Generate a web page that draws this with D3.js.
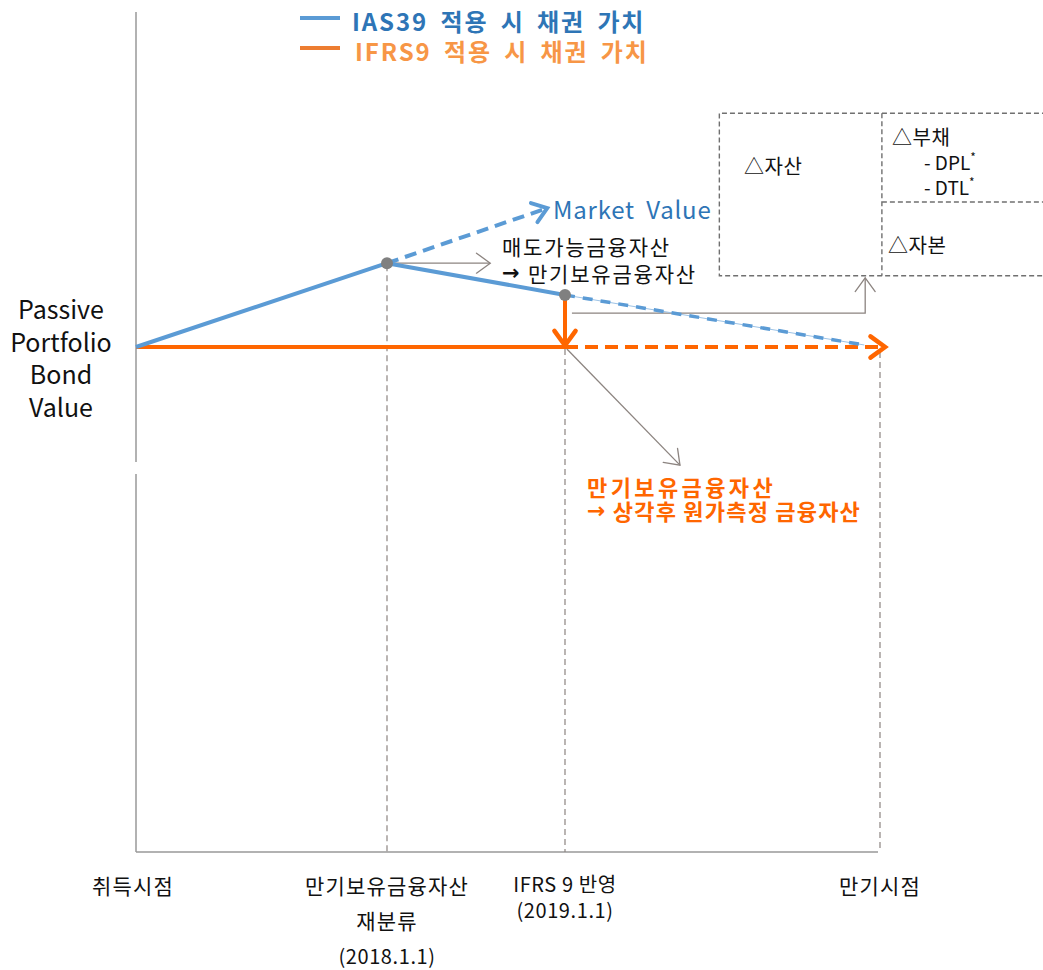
<!DOCTYPE html>
<html>
<head>
<meta charset="utf-8">
<script src="https://cdn.jsdelivr.net/npm/d3@7"></script>
<style>
    body { margin: 0; background: #fff; }
    text { font-family: "Noto Sans CJK KR", "Noto Sans", sans-serif; }
</style>
</head>
<body>
<div id="chart"></div>
<script>
'use strict';

// Time points (abstract index) and labels
const timePoints = [0, 1, 2, 3];
const timeLabels = [
    ['취득시점'],
    ['만기보유금융자산', '재분류', '(2018.1.1)'],
    ['IFRS 9 반영', '(2019.1.1)'],
    ['만기시점']
];

// Bond value paths (t = time index, v = relative value)
const ias39Held = [{t: 0, v: 100}, {t: 1, v: 116.6}, {t: 2, v: 110.3}];
const ias39Market = [{t: 1, v: 116.6}, {t: 1.9, v: 127.5}];
const ias39Amortised = [{t: 2, v: 110.3}, {t: 2.95, v: 100.4}];
const ifrs9Held = [{t: 0, v: 100}, {t: 2, v: 100}];
const ifrs9Future = [{t: 2, v: 100}, {t: 3.016, v: 100}];
const reclassPoints = [{t: 1, v: 116.6}, {t: 2, v: 110.3}];

// Legend
const legendLabels = ['IAS39 적용 시 채권 가치', 'IFRS9 적용 시 채권 가치'];

// Colors
const blue = '#5b9bd5';
const blueText = '#2e75b6';
const orange = '#ff6600';
const orangeLegend = '#ed7d31';
const orangeLegendText = '#f79646';
const gray = '#808080';

// Config
const svgW = 1043;
const svgH = 970;

const x = d3.scaleLinear().domain(timePoints).range([136, 387, 565, 880]);
const y = d3.scaleLinear().domain([0, 100]).range([852, 347]);
const line = d3.line().x(d => x(d.t)).y(d => y(d.v));

const svg = d3.select('#chart').append('svg')
    .attr('width', svgW)
    .attr('height', svgH);

/* chevron arrowhead at (x2,y2) pointing from (x1,y1) */
function chevron(g, x1, y1, x2, y2, size, color, width) {
    const a = Math.atan2(y2 - y1, x2 - x1);
    const spread = Math.PI / 5;
    const p1 = [x2 - size * Math.cos(a - spread), y2 - size * Math.sin(a - spread)];
    const p2 = [x2 - size * Math.cos(a + spread), y2 - size * Math.sin(a + spread)];
    g.append('path')
        .attr('d', `M${p1[0]},${p1[1]}L${x2},${y2}L${p2[0]},${p2[1]}`)
        .attr('fill', 'none')
        .attr('stroke', color)
        .attr('stroke-width', width)
        .attr('stroke-linecap', 'round')
        .attr('stroke-linejoin', 'miter');
}

// Axes
const axisG = svg.append('g').attr('class', 'axis');
axisG.append('line')
    .attr('x1', x(0)).attr('x2', x(0)).attr('y1', 12).attr('y2', 462)
    .attr('stroke', '#999').attr('stroke-width', 1.5);
axisG.append('line')
    .attr('x1', x(0)).attr('x2', x(0)).attr('y1', 474).attr('y2', y(0))
    .attr('stroke', '#999').attr('stroke-width', 1.5);
axisG.append('line')
    .attr('x1', x(0)).attr('x2', x(3) - 2).attr('y1', y(0)).attr('y2', y(0))
    .attr('stroke', '#999').attr('stroke-width', 1.5);

// Drop lines
const dropG = svg.append('g').attr('class', 'drops');
[{t: 1, v: 116.6}, {t: 2, v: 100}, {t: 3, v: 99.4}].forEach(d => {
    dropG.append('line')
        .attr('x1', x(d.t)).attr('x2', x(d.t))
        .attr('y1', y(d.v) + 2).attr('y2', y(0))
        .attr('stroke', '#8c8480').attr('stroke-width', 1.2)
        .attr('stroke-dasharray', '6,4');
});

// Axis labels
const labelG = svg.append('g').attr('class', 'labels');
const labelRows = [[885], [885, 920, 955], [883, 909], [885]];
timeLabels.forEach((lines, i) => {
    lines.forEach((s, j) => {
        const latin = /^[(I]/.test(s);
        labelG.append('text')
            .attr('x', x(timePoints[i]) + (i === 0 ? -3 : 0))
            .attr('y', labelRows[i][j])
            .attr('text-anchor', 'middle')
            .attr('dominant-baseline', 'central')
            .attr('font-size', latin ? 20 : 21)
            .attr('letter-spacing', latin ? 0.6 : 1.2)
            .attr('fill', '#111')
            .text(s);
    });
});

// Y title
['Passive', 'Portfolio', 'Bond', 'Value'].forEach((s, i) => {
    svg.append('text')
        .attr('x', 61).attr('y', 308 + i * 32.5)
        .attr('text-anchor', 'middle')
        .attr('dominant-baseline', 'central')
        .attr('font-size', 25)
        .attr('fill', '#111')
        .text(s);
});

// Box (balance sheet)
const boxG = svg.append('g').attr('class', 'box');
const boxL = x(2.49), boxM = x(3.006), boxR = x(3.53);
const boxT = y(146.3), boxMid = y(128.7), boxB = y(114.1);
boxG.append('path')
    .attr('d', `M${boxR},${boxT}H${boxL}V${boxB}H${boxR}M${boxM},${boxT}V${boxB}M${boxM},${boxMid}H${boxR}`)
    .attr('fill', 'none')
    .attr('stroke', '#707070')
    .attr('stroke-width', 1.4)
    .attr('stroke-dasharray', '5,3');

const boxText = [
    {s: '△자산', x: 744, y: 165},
    {s: '△부채', x: 892, y: 136},
    {s: '△자본', x: 888, y: 244}
];
boxText.forEach(d => {
    boxG.append('text')
        .attr('x', d.x).attr('y', d.y)
        .attr('dominant-baseline', 'central')
        .attr('font-size', 20)
        .attr('letter-spacing', 0.5)
        .attr('fill', '#111')
        .text(d.s);
});
['DPL', 'DTL'].forEach((s, i) => {
    const t = boxG.append('text')
        .attr('x', 924).attr('y', 161 + i * 25)
        .attr('dominant-baseline', 'central')
        .attr('font-size', 19)
        .attr('fill', '#111');
    t.append('tspan').text('- ' + s);
    t.append('tspan').attr('font-size', 12).attr('dy', -5).text('*');
});

// Gray annotation arrows
const annG = svg.append('g').attr('class', 'annotations');
const annArrows = [
    [{t: 1, v: 116.6}, {t: 1.58, v: 116.6}],
    [{t: 2.022, v: 106.7}, {t: 2.953, v: 106.7}, {t: 2.953, v: 113.7}],
    [{t: 2.006, v: 99.6}, {t: 2.365, v: 76.6}]
];
annArrows.forEach(pts => {
    annG.append('path')
        .attr('d', line(pts))
        .attr('fill', 'none')
        .attr('stroke', '#8c8480')
        .attr('stroke-width', 1.3);
    const a = pts[pts.length - 2], b = pts[pts.length - 1];
    chevron(annG, x(a.t), y(a.v), x(b.t), y(b.v), 17, '#8c8480', 1.3);
});

// IFRS9 line
const ifrsG = svg.append('g').attr('class', 'ifrs9');
ifrsG.append('path')
    .attr('d', line(ifrs9Held))
    .attr('fill', 'none').attr('stroke', orange).attr('stroke-width', 4);
ifrsG.append('path')
    .attr('d', line(ifrs9Future))
    .attr('fill', 'none').attr('stroke', orange).attr('stroke-width', 4)
    .attr('stroke-dasharray', '13,7');
{
    const a = ifrs9Future[0], b = ifrs9Future[1];
    chevron(ifrsG, x(a.t), y(a.v), x(b.t), y(b.v), 18, orange, 4.5);
}

// IAS39 lines
const iasG = svg.append('g').attr('class', 'ias39');
iasG.append('path')
    .attr('d', line(ias39Held))
    .attr('fill', 'none').attr('stroke', blue).attr('stroke-width', 4)
    .attr('stroke-linejoin', 'round');
iasG.append('path')
    .attr('d', line(ias39Market))
    .attr('fill', 'none').attr('stroke', blue).attr('stroke-width', 4)
    .attr('stroke-dasharray', '12,7');
{
    const a = ias39Market[0], b = ias39Market[1];
    chevron(iasG, x(a.t), y(a.v), x(b.t), y(b.v), 17, blue, 4);
}
iasG.append('path')
    .attr('d', line(ias39Amortised))
    .attr('fill', 'none').attr('stroke', '#9dc3e6').attr('stroke-width', 1);
iasG.append('path')
    .attr('d', line(ias39Amortised))
    .attr('fill', 'none').attr('stroke', blue).attr('stroke-width', 3.5)
    .attr('stroke-dasharray', '10,8');

// IFRS9 drop arrow
{
    const a = reclassPoints[1], b = {t: 2, v: 100.3};
    ifrsG.append('line')
        .attr('x1', x(a.t)).attr('x2', x(b.t))
        .attr('y1', y(a.v)).attr('y2', y(b.v) - 2)
        .attr('stroke', orange).attr('stroke-width', 4);
    chevron(ifrsG, x(a.t), y(a.v), x(b.t), y(b.v), 18, orange, 4.5);
}

// Points
svg.append('g').selectAll('circle')
    .data(reclassPoints)
    .join('circle')
    .attr('cx', d => x(d.t))
    .attr('cy', d => y(d.v))
    .attr('r', 6)
    .attr('fill', gray);

// Annotation texts
svg.append('text')
    .attr('x', 553).attr('y', 208)
    .attr('dominant-baseline', 'central')
    .attr('font-size', 24)
    .attr('letter-spacing', 0.8)
    .attr('word-spacing', 5)
    .attr('fill', blueText)
    .text('Market Value');

/* text with a bold leading arrow */
function arrowText(g, s, tx, ty, size, spacing, color, weight) {
    const t = g.append('text')
        .attr('x', tx).attr('y', ty)
        .attr('dominant-baseline', 'central')
        .attr('font-size', size)
        .attr('letter-spacing', spacing)
        .attr('font-weight', weight)
        .attr('fill', color);
    if (s.startsWith('→')) {
        t.append('tspan').attr('font-weight', 'bold').attr('font-family', 'DejaVu Sans').text('→');
        t.append('tspan').text(s.slice(1));
    } else {
        t.text(s);
    }
}

['매도가능금융자산', '→ 만기보유금융자산'].forEach((s, i) => {
    arrowText(svg, s, 502, 246 + i * 27, 21, 1.8, '#111', 'normal');
});
['만기보유금융자산', '→ 상각후 원가측정 금융자산'].forEach((s, i) => {
    arrowText(svg, s, 587, 486 + i * 24, 22, i === 0 ? 3.4 : 1.2, orange, 'bold');
});

// Legend
const legendG = svg.append('g').attr('class', 'legend');
[[blue, blueText], [orangeLegend, orangeLegendText]].forEach((c, i) => {
    legendG.append('line')
        .attr('x1', 300).attr('x2', 340)
        .attr('y1', 18 + i * 30).attr('y2', 18 + i * 30)
        .attr('stroke', c[0]).attr('stroke-width', 4);
    legendG.append('text')
        .attr('x', i === 0 ? 352 : 355).attr('y', 20 + i * 30)
        .attr('dominant-baseline', 'central')
        .attr('font-size', 24)
        .attr('font-weight', 'bold')
        .attr('letter-spacing', 1.9)
        .attr('word-spacing', 5)
        .attr('fill', c[1])
        .text(legendLabels[i]);
});
</script>
</body>
</html>
